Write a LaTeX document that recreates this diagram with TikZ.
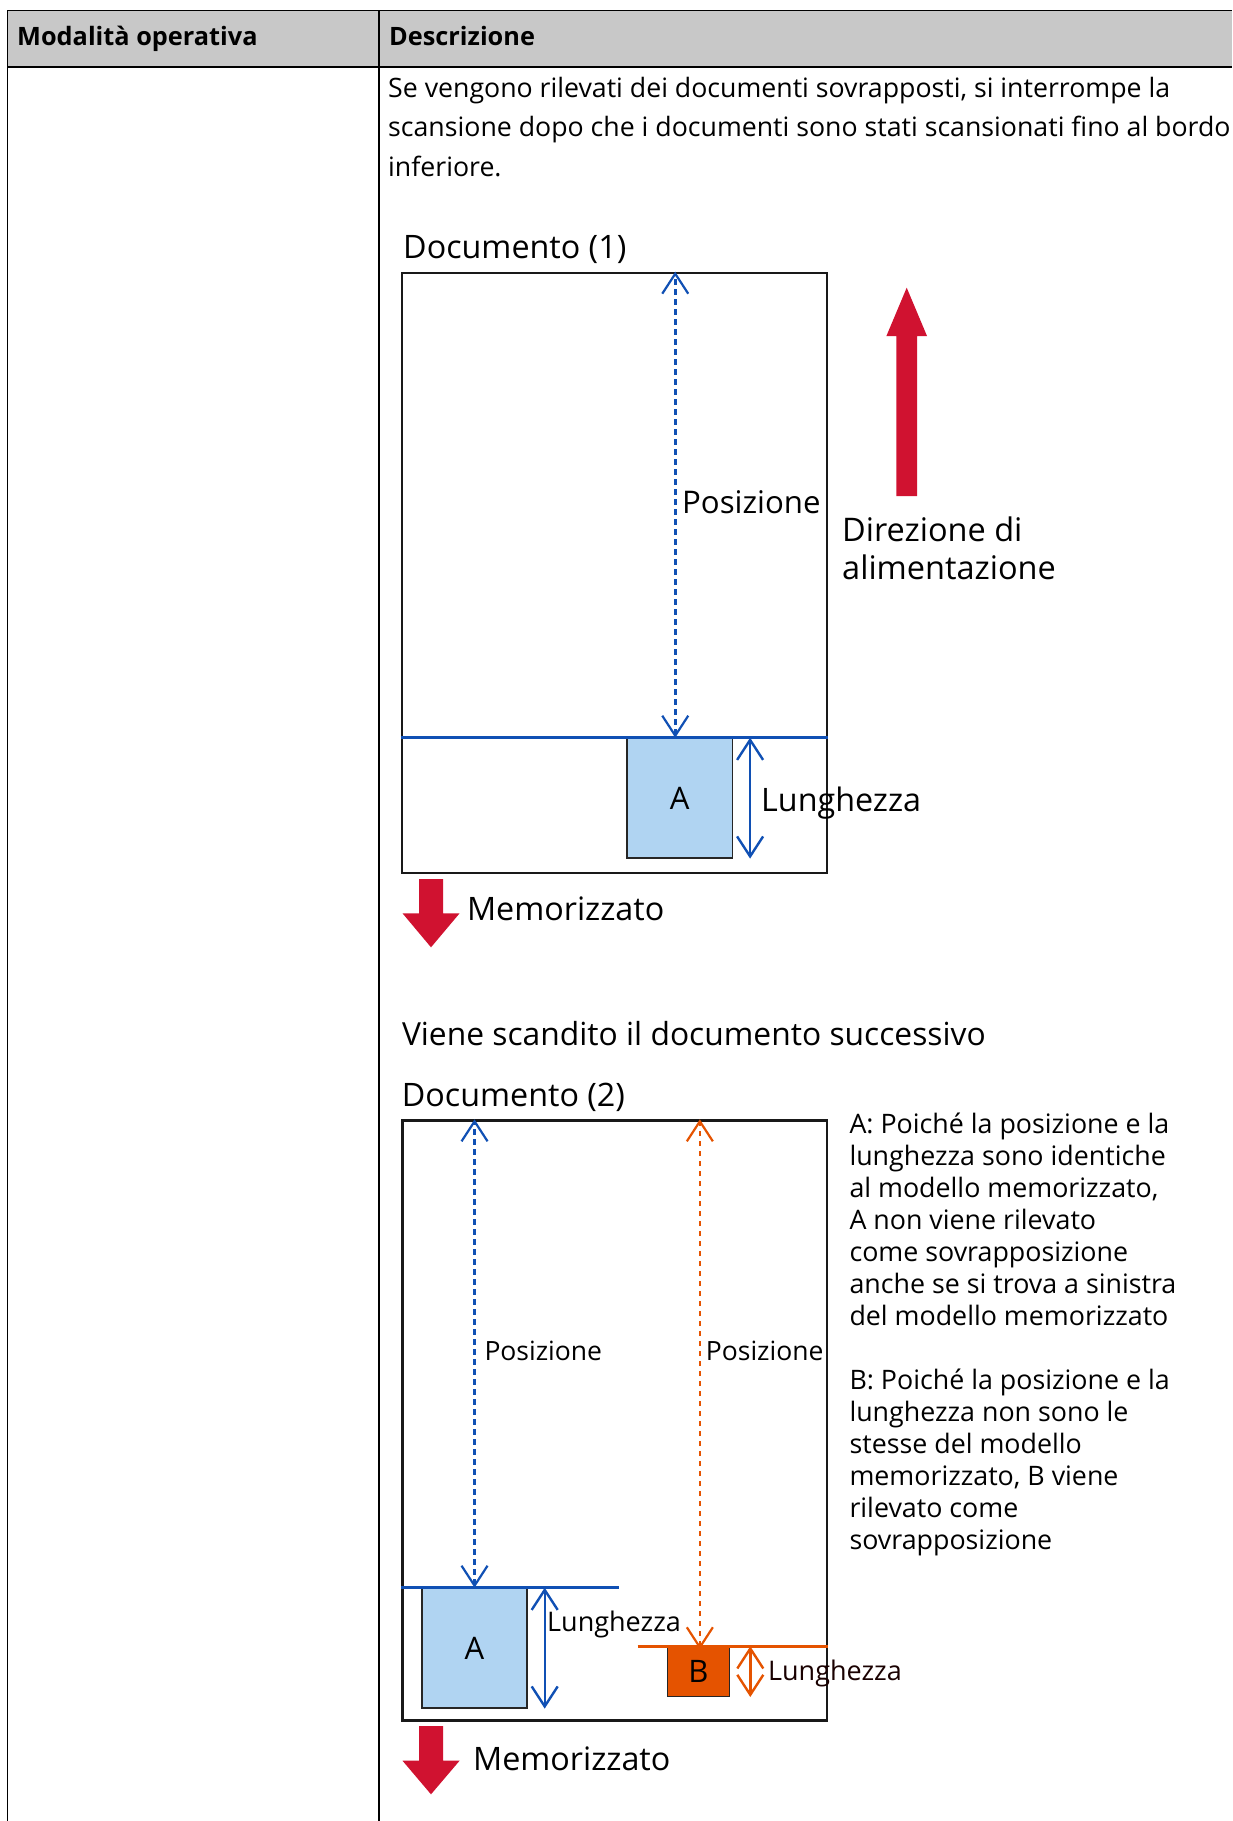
\documentclass[tikz,border=0pt]{standalone}
\usepackage{fontspec}
\setmainfont{Open Sans}
\usetikzlibrary{arrows.meta}

\definecolor{grisTete}{RGB}{200,200,200}
\definecolor{bleuTrait}{RGB}{16,80,180}
\definecolor{bleuClair}{RGB}{176,212,242}
\definecolor{orangeB}{RGB}{229,83,0}
\definecolor{rougeFl}{RGB}{208,18,48}

\begin{document}
\begin{tikzpicture}[x=1pt,y=-1pt,
    docbox/.style={draw=black!90,line width=2.5pt,inner sep=0,anchor=north west},
    cadre/.style={draw=black!85,line width=1.3pt,inner sep=0,anchor=north west,font=\fontsize{31}{36}\selectfont},
    grand/.style={anchor=base west,inner sep=0,font=\fontsize{32.3}{40}\selectfont},
    petit/.style={anchor=base west,inner sep=0,font=\fontsize{27}{32.1}\selectfont},
    pointille/.style={line width=2.6pt,dash pattern=on 5.5pt off 4.5pt,
        {Straight Barb[length=20pt,width=26pt,line width=2.2pt]}-{Straight Barb[length=20pt,width=26pt,line width=2.2pt]}},
    cote/.style={line width=2.4pt,
        {Straight Barb[length=20pt,width=26pt]}-{Straight Barb[length=20pt,width=26pt]}}]
    \useasboundingbox (0,0) rectangle (1232,1821);
    % tableau
    \fill[grisTete] (7.3,10.7) rectangle (1232,66.7);
    \draw[line width=1.5pt] (7.3,10.7) -- (1232,10.7);
    \draw[line width=2.2pt] (7.3,66.7) -- (1232,66.7);
    \draw[line width=1.5pt] (7.3,10.7) -- (7.3,1821);
    \draw[line width=1.5pt] (379,10.7) -- (379,1821);
    \node[anchor=base west,inner sep=0,font=\fontsize{25.3}{30}\selectfont\bfseries] (hmode) at (17,45.7) {Modalità operativa};
    \node[anchor=base west,inner sep=0,font=\fontsize{25.3}{30}\selectfont\bfseries] (hdesc) at (389,45.7) {Descrizione};
    \node[anchor=base west,inner sep=0,align=left,font=\fontsize{26.7}{39.5}\selectfont] (intro) at (388,176)
        {Se vengono rilevati dei documenti sovrapposti, si interrompe la\\
         scansione dopo che i documenti sono stati scansionati fino al bordo\\
         inferiore.};

    % documento 1
    \node[grand] (titre1) at (403,258.3) {Documento (1)};
    \node[docbox,minimum width=425pt,minimum height=600pt] (doc1) at (400.7,271.7) {};
    \node[cadre,fill=bleuClair,minimum width=105.4pt,minimum height=119.6pt] (A1) at (626.4,737.7) {A};
    \coordinate (posA1) at ([xshift=-4.5pt]A1.north);
    \draw[bleuTrait,line width=2.5pt] (doc1.west |- A1.north) -- (doc1.east |- A1.north);
    \draw[bleuTrait,pointille] (posA1) -- (posA1 |- doc1.north);
    \draw[bleuTrait,cote] ([xshift=17pt]A1.north east) -- ([xshift=17pt]A1.south east);
    \node[grand,font=\fontsize{31.2}{40}\selectfont] (pos1) at (682,513.3) {Posizione};
    \node[grand] (lun1) at (761,811.7) {Lunghezza};
    % direzione
    \fill[rougeFl] (896.4,496) -- (896.4,336) -- (886.4,336) -- (906.7,287.7)
        -- (927,336) -- (917.1,336) -- (917.1,496) -- cycle;
    \node[grand,align=left,font=\fontsize{32.5}{37.6}\selectfont] (dir) at (842,579.3) {Direzione di\\alimentazione};
    \fill[rougeFl] (419,879) -- (443,879) -- (443,913.3) -- (459.6,913.3) -- (431,947.3)
        -- (402.5,913.3) -- (419,913.3) -- cycle;
    \node[grand] (mem1) at (466.8,920) {Memorizzato};

    \node[grand,font=\fontsize{31.8}{40}\selectfont] (succ) at (401.8,1045) {Viene scandito il documento successivo};

    % documento 2
    \node[grand] (titre2) at (401.7,1106) {Documento (2)};
    \node[docbox,minimum width=424.7pt,minimum height=600pt] (doc2) at (401,1119.3) {};
    \node[cadre,fill=bleuClair,minimum width=105pt,minimum height=119.6pt] (A2) at (421.4,1587.7) {A};
    \node[cadre,fill=orangeB,minimum width=61.8pt,minimum height=49.4pt] (B) at (666.8,1646.3) {B};
    \coordinate (finBleu) at (618.6,1587.7);
    \coordinate (debOr) at (637.5,1646.3);
    \coordinate (posB) at ([xshift=1.5pt,yshift=-3pt]B.north);
    \draw[bleuTrait,line width=2.5pt] (doc2.west |- A2.north) -- (finBleu);
    \draw[orangeB,line width=2.5pt] (debOr) -- (doc2.east |- B.north);
    \draw[bleuTrait,pointille] (A2.north) -- (A2.north |- doc2.north);
    \draw[orangeB,pointille] (posB) -- (posB |- doc2.north);
    \draw[bleuTrait,cote] ([xshift=17pt]A2.north east) -- ([xshift=17pt]A2.south east);
    \draw[orangeB,cote] ([xshift=20.4pt]B.north east) -- ([xshift=20.4pt]B.south east);
    \node[petit,font=\fontsize{26.5}{32}\selectfont] (pos2) at (484.3,1360) {Posizione};
    \node[petit,font=\fontsize{26.5}{32}\selectfont] (pos3) at (705.7,1360) {Posizione};
    \node[petit] (lun2) at (547,1631.7) {Lunghezza};
    \node[petit,text=black!90!red] (lun3) at (767.9,1680.7) {Lunghezza};
    \fill[rougeFl] (419,1726) -- (443,1726) -- (443,1760.7) -- (459.6,1760.7) -- (431,1794.3)
        -- (402.5,1760.7) -- (419,1760.7) -- cycle;
    \node[grand] (mem2) at (472.9,1770) {Memorizzato};
    % spiegazione
    \node[petit,align=left,font=\fontsize{26.8}{32.1}\selectfont] (noteA) at (849.3,1325.6)
        {A: Poiché la posizione e la\\lunghezza sono identiche\\al modello memorizzato,\\A non viene rilevato\\come sovrapposizione\\anche se si trova a sinistra\\del modello memorizzato};
    \node[petit,align=left,font=\fontsize{26.8}{32.1}\selectfont] (noteB) at (849.3,1549.7)
        {B: Poiché la posizione e la\\lunghezza non sono le\\stesse del modello\\memorizzato, B viene\\rilevato come\\sovrapposizione};
\end{tikzpicture}
\end{document}
